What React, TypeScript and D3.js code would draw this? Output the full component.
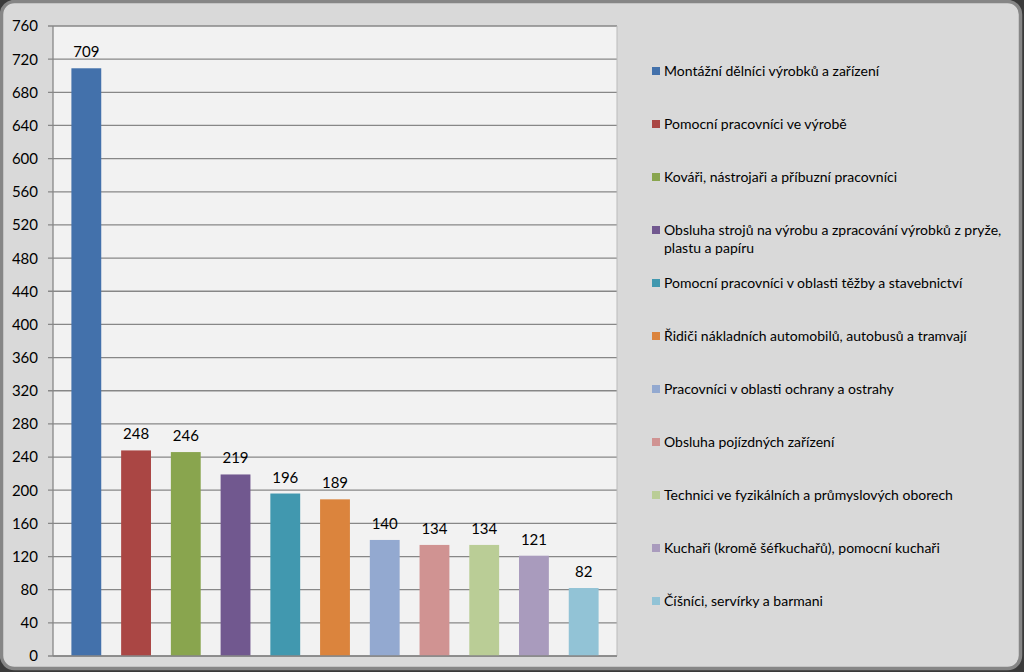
import React from "react";
import * as d3 from "d3";

const categories: string[][] = [
  ["Montážní dělníci výrobků a zařízení"],
  ["Pomocní pracovníci ve výrobě"],
  ["Kováři, nástrojaři a příbuzní pracovníci"],
  ["Obsluha strojů na výrobu a zpracování výrobků z pryže,", "plastu a papíru"],
  ["Pomocní pracovníci v oblasti těžby a stavebnictví"],
  ["Řidiči nákladních automobilů, autobusů a tramvají"],
  ["Pracovníci v oblasti ochrany a ostrahy"],
  ["Obsluha pojízdných zařízení"],
  ["Technici ve fyzikálních a průmyslových oborech"],
  ["Kuchaři (kromě šéfkuchařů), pomocní kuchaři"],
  ["Číšníci, servírky a barmani"],
];
const values: number[] = [709, 248, 246, 219, 196, 189, 140, 134, 134, 121, 82];
const colors: string[] = [
  "#4371ab", "#aa4644", "#89a54e", "#71588f", "#4198af", "#db843d",
  "#93a9d0", "#d09392", "#bacd96", "#a99bbd", "#92c3d6",
];
const yTicks: number[] = d3.range(0, 761, 40);

const W = 1024;
const H = 672;
const font = "Lato, 'Open Sans', sans-serif";

export default function App() {
  const left = 53, right = 617, top = 26, bottom = 656;
  const x = d3.scaleBand<number>()
    .domain(values.map((_, i) => i))
    .range([left, right])
    .paddingInner(0.4)
    .paddingOuter(0.37);
  const y = d3.scaleLinear().domain([0, 760]).range([bottom, top]);

  return (
    <svg width={W} height={H} style={{ position: "absolute", left: 0, top: 0, display: "block" }}>
      <rect x={0} y={0} width={W} height={H} fill="#3a3a3a" />
      <rect x={1.5} y={1.5} width={1019} height={667} rx={13} ry={13} fill="#d9d9d9" stroke="#868686" strokeWidth={3.5} />
      <rect x={left} y={top} width={right - left} height={bottom - top} fill="#f2f2f2" />
      {yTicks.map((t) => (
        <g key={t}>
          <line x1={left - 5} x2={right} y1={y(t)} y2={y(t)} stroke="#878787" strokeWidth={1.3} />
          <text x={38} y={y(t)} dy="0.36em" textAnchor="end" fontFamily={font} fontSize={15} fill="#000">
            {t}
          </text>
        </g>
      ))}
      <line x1={left} x2={left} y1={top} y2={bottom} stroke="#878787" strokeWidth={1.3} />
      <line x1={right} x2={right} y1={top} y2={bottom} stroke="#bbbbbb" strokeWidth={1} />
      {values.map((v, i) => (
        <g key={i}>
          <rect x={x(i)!} y={y(v)} width={x.bandwidth()} height={bottom - y(v)} fill={colors[i]} />
          <text x={x(i)! + x.bandwidth() / 2} y={y(v) - 11} textAnchor="middle" fontFamily={font} fontSize={15} fill="#000">
            {v}
          </text>
        </g>
      ))}
      <line x1={left} x2={right} y1={bottom} y2={bottom} stroke="#878787" strokeWidth={1.5} />
      {categories.map((lines, i) => {
        const cy = 71 + i * 53;
        return (
          <g key={i}>
            <rect x={652} y={cy - 4} width={8} height={8} fill={colors[i]} />
            {lines.map((ln, j) => (
              <text key={j} x={664} y={cy + j * 18} dy="0.36em" fontFamily={font} fontSize={14} fill="#000">
                {ln}
              </text>
            ))}
          </g>
        );
      })}
    </svg>
  );
}
